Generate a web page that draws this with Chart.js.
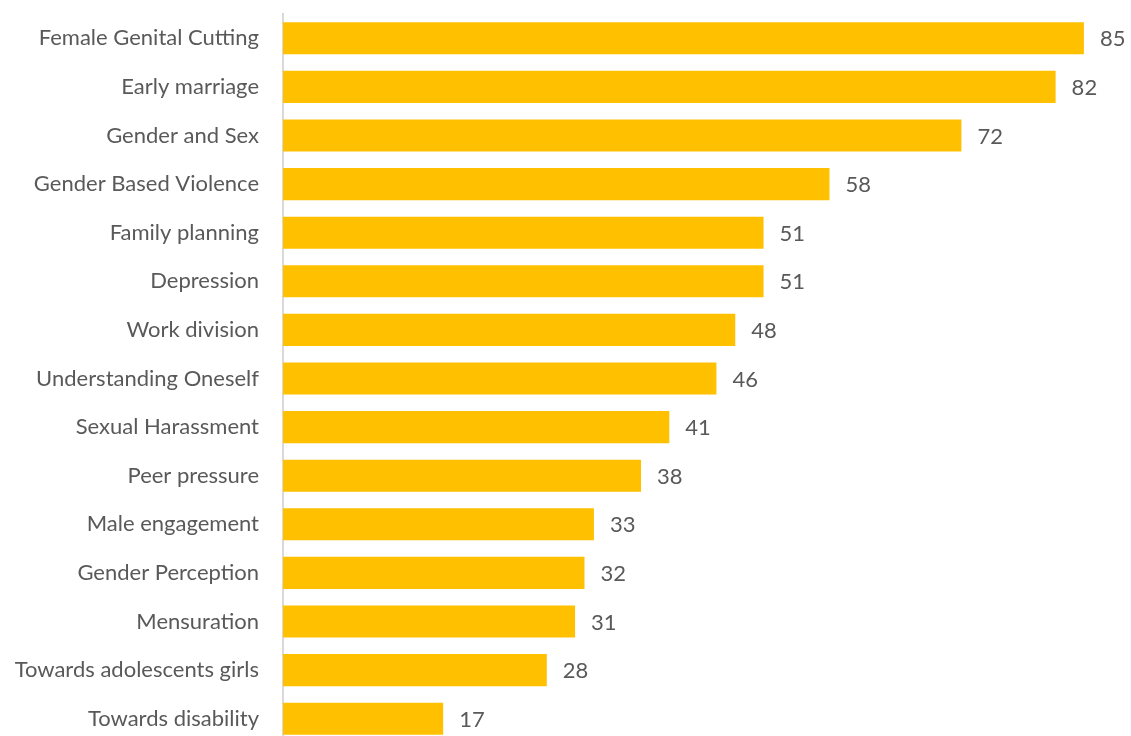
<!DOCTYPE html>
<html>
<head>
<meta charset="utf-8">
<script src="https://cdn.jsdelivr.net/npm/chart.js@4/dist/chart.umd.min.js"></script>
<style>
  html, body { margin: 0; padding: 0; background: #fff; overflow: hidden; }
  #wrap { width: 1131px; height: 743px; position: relative; }
</style>
</head>
<body>
<div id="wrap"><canvas id="chart"></canvas></div>
<script>
    "use strict";

    // Data
    var categories = [
        "Female Genital Cutting", "Early marriage", "Gender and Sex",
        "Gender Based Violence", "Family planning", "Depression",
        "Work division", "Understanding Oneself", "Sexual Harassment",
        "Peer pressure", "Male engagement", "Gender Perception",
        "Mensuration", "Towards adolescents girls", "Towards disability"
    ];
    var values = [85, 82, 72, 58, 51, 51, 48, 46, 41, 38, 33, 32, 31, 28, 17];

    var textColor = "#595959";
    var fontFamily = "Lato, 'Open Sans', sans-serif";

    // Value labels at the end of each bar
    var barValues = {
        id: "barValues",
        afterDatasetsDraw: function (chart) {
            var ctx = chart.ctx;
            var meta = chart.getDatasetMeta(0);
            ctx.save();
            ctx.font = "22px " + fontFamily;
            ctx.fillStyle = textColor;
            ctx.textAlign = "left";
            ctx.textBaseline = "middle";
            meta.data.forEach(function (bar, i) {
                ctx.fillText(String(values[i]), bar.x + 16, bar.y + 1);
            });
            ctx.restore();
        }
    };

    new Chart(document.getElementById("chart"), {
        type: "bar",
        data: {
            labels: categories,
            datasets: [{
                data: values,
                backgroundColor: "#FFC000",
                borderWidth: 0,
                barPercentage: 0.66,
                categoryPercentage: 1
            }]
        },
        options: {
            indexAxis: "y",
            responsive: true,
            maintainAspectRatio: false,
            animation: false,
            layout: { padding: { top: 14, right: 0, bottom: 0, left: 0 } },
            plugins: {
                legend: { display: false },
                tooltip: { enabled: false }
            },
            scales: {
                x: {
                    display: false,
                    min: 0,
                    max: 90
                },
                y: {
                    afterFit: function (scale) {
                        scale.width = 283;
                        scale.paddingTop = 0;
                        scale.paddingBottom = 0;
                    },
                    grid: { display: false, drawTicks: false },
                    border: { display: true, color: "#d9d9d9", width: 2 },
                    ticks: {
                        padding: 24,
                        color: textColor,
                        font: { family: fontFamily, size: 22 }
                    }
                }
            }
        },
        plugins: [barValues]
    });
</script>
</body>
</html>
